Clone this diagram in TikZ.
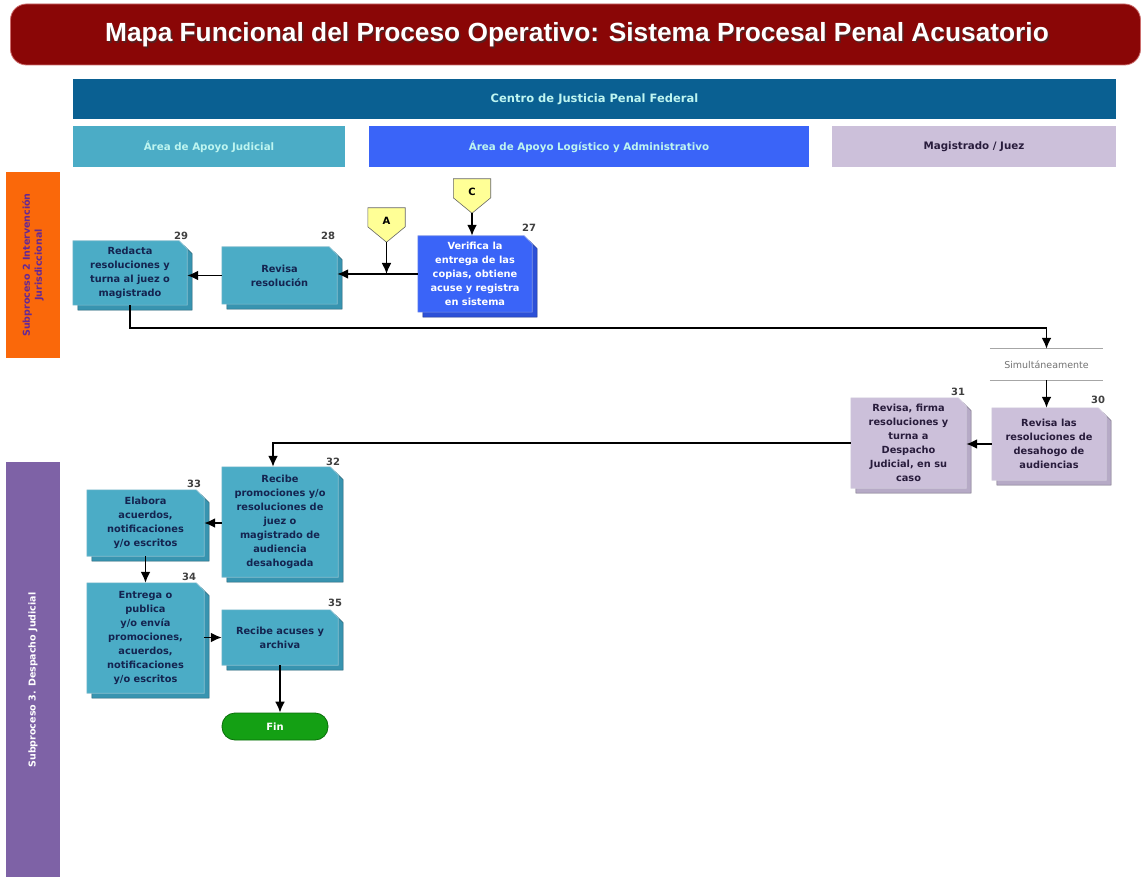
\documentclass[tikz,border=0pt]{standalone}
\usepackage{fontspec}
\setmainfont{DejaVu Sans}
\newfontfamily\titlefont{Liberation Sans}
\usetikzlibrary{arrows.meta,calc}
\pgfdeclarelayer{paper}
\pgfdeclarelayer{bg}
\pgfsetlayers{paper,bg,main}

\definecolor{bannerred}{RGB}{138,6,6}
\definecolor{bannerrim}{RGB}{205,110,110}
\definecolor{centro}{RGB}{10,96,146}
\definecolor{centrotxt}{RGB}{190,245,240}
\definecolor{tealface}{RGB}{75,172,198}
\definecolor{tealside}{RGB}{56,148,176}
\definecolor{blueface}{RGB}{58,100,248}
\definecolor{blueside}{RGB}{44,80,215}
\definecolor{lavface}{RGB}{204,192,218}
\definecolor{lavside}{RGB}{182,170,198}
\definecolor{navytxt}{RGB}{20,36,80}
\definecolor{lavtxt}{RGB}{40,28,60}
\definecolor{orangebar}{RGB}{250,104,10}
\definecolor{purplebar}{RGB}{126,98,166}
\definecolor{purpletxt}{RGB}{100,40,150}
\definecolor{connyellow}{RGB}{255,255,150}
\definecolor{fingreen}{RGB}{20,160,20}
\definecolor{fingreendark}{RGB}{10,110,10}

% box from its corners: name, x1, y1, x2, y2, style, text
\newcommand\procnode[7]{%
  \node[#6, minimum width={(#4-#2)*1pt}, minimum height={(#5-#3)*1pt}]
    (#1) at ({(#2+#4)/2},{(#3+#5)/2}) {#7};}
% 3-D box with cut top-right corner behind a node: name, face, side
\newcommand\bevelbox[3]{%
  \begin{pgfonlayer}{bg}
    \filldraw[fill=#3, draw=#3!65!black, line width=0.5pt]
      ([shift={(5,5)}]#1.south west) -- ([shift={(5,5)}]#1.north west)
      -- ([shift={(-3,5)}]#1.north east) -- ([shift={(5,13)}]#1.north east)
      -- ([shift={(5,5)}]#1.south east) -- cycle;
    \filldraw[fill=#2, draw=#3!60!white, line width=0.6pt] (#1.south west) -- (#1.north west)
      -- ([xshift=-8pt]#1.north east) -- ([yshift=-8pt]#1.north east)
      -- (#1.south east) -- cycle;
  \end{pgfonlayer}}
% off-page connector pentagon behind a node: name
\newcommand\offpage[1]{%
  \begin{pgfonlayer}{bg}
    \filldraw[fill=connyellow, draw=black!60, line width=0.6pt]
      (#1.north west) -- (#1.north east) -- ([yshift=-19pt]#1.north east)
      -- (#1.south) -- ([yshift=-19pt]#1.north west) -- cycle;
  \end{pgfonlayer}}

\begin{document}
\begin{tikzpicture}[x=1pt,y=-1pt,
  txt/.style={align=center, inner sep=0pt, font=\fontsize{9.8}{14}\selectfont\bfseries},
  tealbox/.style={txt, text=navytxt},
  bluebox/.style={txt, text=white},
  lavbox/.style={txt, text=lavtxt},
  numlbl/.style={font=\fontsize{10}{12}\selectfont\bfseries, text=black!75, inner sep=0pt},
  lane/.style={inner sep=0pt, font=\fontsize{10.3}{12}\selectfont\bfseries},
  conn/.style={minimum width=37pt, minimum height=34pt, inner sep=0pt,
    font=\fontsize{10}{12}\selectfont\bfseries},
  arr/.style={draw=black, line width=1.9pt, -{Latex[length=11pt,width=10pt]}}]

\useasboundingbox (0,0) rectangle (1143,877);
\begin{pgfonlayer}{paper}
  \fill[white] (0,0) rectangle (1143,877);
\end{pgfonlayer}

% title banner
\node[fill=bannerred, draw=bannerrim, line width=0.8pt, rounded corners=16pt,
  minimum width=1130pt, minimum height=61pt, inner sep=0pt] (banner) at (575.5,34.5) {};
\node[text=black!80, opacity=0.6, font=\titlefont\fontsize{26.3}{30}\selectfont\bfseries]
  (titleshadow) at (578.5,36.5) {Mapa Funcional del Proceso Operativo: Sistema Procesal Penal Acusatorio};
\node[text=white, font=\titlefont\fontsize{26.3}{30}\selectfont\bfseries]
  (title) at (577,35) {Mapa Funcional del Proceso Operativo: Sistema Procesal Penal Acusatorio};

% organisation header and lanes
\procnode{centro}{73}{79}{1116}{119}{lane, fill=centro, text=centrotxt, font=\fontsize{11.5}{13}\selectfont\bfseries}{Centro de Justicia Penal Federal}
\procnode{laneA}{73}{126}{345}{167}{lane, fill=tealface, text=centrotxt}{Área de Apoyo Judicial}
\procnode{laneB}{369}{126}{809}{167}{lane, fill=blueface, text=centrotxt}{Área de Apoyo Logístico y Administrativo}
\procnode{laneC}{832}{126}{1116}{167}{lane, fill=lavface, text=lavtxt}{Magistrado / Juez}

% sub-process bars
\procnode{sub2}{6}{172}{60}{358}{inner sep=0pt, fill=orangebar}{}
\node[rotate=90, align=center, text=purpletxt, font=\fontsize{9.5}{12}\selectfont\bfseries]
  (sub2txt) at (sub2.center) {Subproceso 2 Intervención\\Jurisdiccional};
\procnode{sub3}{6}{462}{60}{877}{inner sep=0pt, fill=purplebar}{}
\node[rotate=90, text=white, font=\fontsize{9.5}{12}\selectfont\bfseries]
  (sub3txt) at (33,680) {Subproceso 3. Despacho Judicial};

% process boxes
\procnode{n29}{73}{241}{187}{305}{tealbox}{Redacta\\resoluciones y\\turna al juez o\\magistrado}
\bevelbox{n29}{tealface}{tealside}
\procnode{n28}{222}{247}{337}{304}{tealbox}{Revisa\\resolución}
\bevelbox{n28}{tealface}{tealside}
\procnode{n27}{418}{236}{532}{312}{bluebox}{Verifica la\\entrega de las\\copias, obtiene\\acuse y registra\\en sistema}
\bevelbox{n27}{blueface}{blueside}
\procnode{n30}{992}{408}{1106}{480}{lavbox}{Revisa las\\resoluciones de\\desahogo de\\audiencias}
\bevelbox{n30}{lavface}{lavside}
\procnode{n31}{851}{398}{966}{488}{lavbox}{Revisa, firma\\resoluciones y\\turna a\\Despacho\\Judicial, en su\\caso}
\bevelbox{n31}{lavface}{lavside}
\procnode{n32}{222}{467}{338}{577}{tealbox}{Recibe\\promociones y/o\\resoluciones de\\juez o\\magistrado de\\audiencia\\desahogada}
\bevelbox{n32}{tealface}{tealside}
\procnode{n33}{87}{490}{204}{556}{tealbox}{Elabora\\acuerdos,\\notificaciones\\y/o escritos}
\bevelbox{n33}{tealface}{tealside}
\procnode{n34}{87}{583}{204}{693}{tealbox}{Entrega o\\publica\\y/o envía\\promociones,\\acuerdos,\\notificaciones\\y/o escritos}
\bevelbox{n34}{tealface}{tealside}
\procnode{n35}{222}{610}{338}{665}{tealbox}{Recibe acuses y\\archiva}
\bevelbox{n35}{tealface}{tealside}

% step numbers
\node[numlbl] (l29) at (181,236) {29};
\node[numlbl] (l28) at (328,236) {28};
\node[numlbl] (l27) at (529,228) {27};
\node[numlbl] (l30) at (1098,400) {30};
\node[numlbl] (l31) at (958,392) {31};
\node[numlbl] (l32) at (333,462) {32};
\node[numlbl] (l33) at (194,484) {33};
\node[numlbl] (l34) at (189,577) {34};
\node[numlbl] (l35) at (335,603) {35};

% off-page connectors
\node[conn] (cA) at (386.5,225) {\raisebox{8pt}{A}};
\offpage{cA}
\node[conn] (cC) at (472,196) {\raisebox{8pt}{C}};
\offpage{cC}

% simultaneous branch
\node[minimum width=113pt, minimum height=31pt, inner sep=0pt, text=black!55,
  font=\fontsize{9.5}{12}\selectfont] (sim) at (1046.5,364.5) {Simultáneamente};
\draw[black!35, line width=0.8pt] (sim.north west) -- (sim.north east);
\draw[black!35, line width=0.8pt] (sim.south west) -- (sim.south east);

% end terminal
\node[fill=fingreen, draw=fingreendark, line width=0.8pt, rounded corners=13pt,
  minimum width=106pt, minimum height=27pt, inner sep=0pt, text=white,
  font=\fontsize{10}{12}\selectfont\bfseries] (fin) at (275,726.5) {Fin};

% connectors
\coordinate (jA) at (cA.south |- n27.west);
\draw[arr] (cA.south) -- (jA);
\draw[arr] (cC.south) -- (cC.south |- n27.north);
\draw[arr] (n27.west) -- (n27.west -| n28.east);
\draw[arr] (n28.west) -- (n28.west -| n29.east);
\coordinate (turn) at (sim.north |- 0,328);
\draw[arr] (n29.south) |- (turn) -- (sim.north);
\draw[arr] (sim.south) -- (sim.south |- n30.north);
\draw[arr] (n30.west) -- (n30.west -| n31.east);
\coordinate (drop) at (273,0);
\draw[arr] (n31.west) -| (drop |- n32.north);
\draw[arr] (n32.west |- n33.east) -- (n33.east);
\draw[arr] (n33.south) -- (n33.south |- n34.north);
\draw[arr] (n34.east |- n35.west) -- (n35.west);
\draw[arr] (n35.south) -- (n35.south |- fin.north);
\end{tikzpicture}
\end{document}
